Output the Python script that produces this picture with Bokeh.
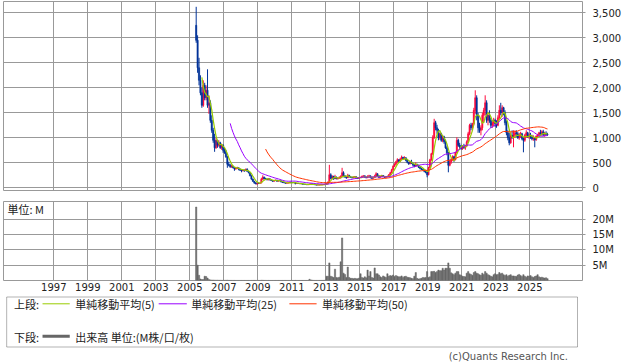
import numpy as np
import pandas as pd
from bokeh.plotting import figure
from bokeh.layouts import column
from bokeh.models import (Range1d, FixedTicker, NumeralTickFormatter, PrintfTickFormatter,
                          Label, BoxAnnotation)
from bokeh.embed import file_html
from bokeh.resources import INLINE
from bokeh.core.properties import value

# ---------------- data (monthly, 2005-05 .. 2026-01) ----------------
months = pd.period_range("2005-05", "2026-01", freq="M")

opens = [
    3250, 2950, 2400, 2150, 1900, 1650, 2050, 1800,
    1950, 1650, 1700, 1350, 1150, 950, 800, 950, 850, 900, 800, 850,
    750, 720, 620, 470, 450, 420, 430, 400, 380, 390, 400, 370,
    350, 340, 355, 340, 370, 330, 300, 240, 175, 130, 100, 80,
    95, 90, 95, 170, 210, 180, 175, 160, 180, 155, 145, 130,
    145, 155, 130, 145, 140, 115, 105, 100, 90, 95, 100, 112,
    105, 100, 106, 85, 90, 85, 80, 82, 72, 70, 67, 60,
    64, 72, 78, 72, 65, 57, 54, 56, 58, 60, 62, 67,
    75, 85, 110, 260, 190, 230, 180, 215, 180, 190, 200, 220,
    300, 240, 215, 200, 250, 220, 210, 200, 215, 220, 195, 190,
    205, 210, 225, 240, 210, 200, 225, 240, 205, 190, 200, 235,
    280, 240, 210, 225, 245, 230, 210, 220, 230, 260, 300, 360,
    430, 470, 520, 560, 530, 570, 610, 580, 600, 550, 510, 480,
    520, 490, 460, 430, 470, 450, 410, 390, 370, 360, 330, 310,
    260, 400, 560, 680, 1000, 1300, 1200, 1150, 1000, 1080, 950, 1020,
    920, 800, 700, 450, 520, 560, 620, 560, 700, 950, 850, 820,
    790, 830, 800, 840, 920, 1080, 1250, 1200, 1280, 1550, 1800, 1450,
    1200, 1150, 1200, 1450, 1550, 1700, 1350, 1450, 1350, 1250, 1300, 1350,
    1280, 1250, 1400, 1550, 1500, 1600, 1500, 1300, 1100, 1000, 900, 1050,
    1000, 1050, 1100, 1080, 1000, 1050, 1080, 980, 950, 1050, 1100, 1020,
    1050, 1020, 980, 1000, 960, 1030, 1050, 1100, 1080, 1120, 1060, 1090,
    1070,
]
highs = [
    3620, 3050, 2600, 2250, 2000, 2150, 2100, 2050,
    2370, 1850, 1750, 1450, 1200, 1080, 1000, 960, 950, 920, 880, 870,
    800, 760, 640, 520, 480, 460, 445, 410, 400, 420, 405, 385,
    360, 370, 365, 385, 390, 340, 310, 250, 185, 140, 110, 110,
    110, 105, 200, 250, 225, 200, 185, 190, 185, 165, 150, 150,
    165, 160, 150, 160, 142, 122, 115, 105, 100, 105, 118, 120,
    115, 112, 108, 95, 95, 90, 88, 85, 78, 75, 70, 68,
    82, 88, 82, 75, 68, 62, 60, 62, 64, 66, 70, 80,
    92, 130, 460, 290, 250, 240, 260, 225, 205, 230, 250, 400,
    330, 250, 225, 280, 260, 230, 220, 225, 235, 225, 205, 215,
    220, 245, 250, 245, 215, 250, 260, 245, 210, 215, 260, 310,
    290, 245, 235, 260, 250, 235, 230, 240, 275, 320, 380, 450,
    490, 540, 590, 570, 600, 645, 620, 630, 610, 560, 520, 540,
    560, 500, 470, 510, 480, 460, 420, 400, 380, 365, 340, 320,
    420, 580, 700, 1050, 1380, 1340, 1260, 1180, 1100, 1100, 1050, 1040,
    960, 830, 720, 560, 600, 650, 640, 720, 1010, 980, 900, 860,
    850, 880, 860, 950, 1120, 1280, 1300, 1300, 1600, 1950, 1850, 1500,
    1300, 1250, 1500, 1600, 1850, 1750, 1500, 1550, 1400, 1350, 1400, 1380,
    1350, 1450, 1650, 1700, 1650, 1620, 1550, 1350, 1150, 1100, 1100, 1150,
    1150, 1150, 1150, 1120, 1100, 1120, 1100, 1020, 1080, 1150, 1120, 1080,
    1100, 1060, 1050, 1020, 1050, 1080, 1120, 1160, 1150, 1160, 1120, 1130,
    1100,
]
lows = [
    2900, 2300, 2050, 1850, 1600, 1620, 1750, 1750,
    1600, 1480, 1300, 1100, 900, 720, 780, 800, 820, 780, 760, 700,
    680, 600, 400, 430, 400, 400, 390, 340, 360, 375, 350, 340,
    310, 330, 320, 335, 320, 290, 230, 160, 120, 80, 70, 55,
    75, 80, 90, 160, 170, 160, 150, 150, 150, 135, 120, 125,
    135, 125, 125, 130, 110, 100, 95, 85, 85, 88, 95, 100,
    98, 95, 68, 80, 82, 78, 76, 68, 66, 64, 56, 56,
    60, 68, 68, 62, 54, 50, 50, 52, 54, 55, 58, 64,
    70, 80, 105, 170, 175, 160, 175, 170, 165, 180, 185, 210,
    210, 200, 180, 195, 205, 195, 190, 190, 200, 180, 175, 180,
    195, 200, 210, 200, 190, 195, 210, 190, 175, 185, 195, 225,
    225, 195, 205, 215, 215, 195, 205, 210, 225, 255, 290, 350,
    420, 450, 500, 500, 520, 555, 560, 570, 530, 490, 460, 470,
    480, 430, 410, 425, 430, 395, 370, 355, 345, 310, 290, 210,
    250, 390, 540, 660, 980, 1150, 1080, 950, 960, 920, 910, 880,
    780, 650, 310, 430, 480, 540, 520, 550, 690, 820, 780, 760,
    760, 780, 760, 820, 900, 1050, 1150, 1150, 1250, 1480, 1350, 1100,
    1100, 1050, 1150, 1300, 1450, 1300, 1250, 1300, 1200, 1200, 1230, 1220,
    1200, 1230, 1350, 1450, 1420, 1450, 1250, 1050, 950, 850, 880, 980,
    810, 1000, 1020, 980, 960, 1000, 950, 710, 920, 1000, 1000, 980,
    980, 950, 940, 810, 940, 1000, 1020, 1060, 1040, 1030, 1020, 1040,
    1040,
]
closes = [
    2950, 2400, 2150, 1900, 1650, 2050, 1800, 1950,
    1650, 1700, 1350, 1150, 950, 800, 950, 850, 900, 800, 850, 750,
    720, 620, 470, 450, 420, 430, 400, 380, 390, 400, 370, 350,
    340, 355, 340, 370, 330, 300, 240, 175, 130, 100, 80, 95,
    90, 95, 170, 210, 180, 175, 160, 180, 155, 145, 130, 145,
    155, 130, 145, 140, 115, 105, 100, 90, 95, 100, 112, 105,
    100, 106, 85, 90, 85, 80, 82, 72, 70, 67, 60, 64,
    72, 78, 72, 65, 57, 54, 56, 58, 60, 62, 67, 75,
    85, 110, 260, 190, 230, 180, 215, 180, 190, 200, 220, 300,
    240, 215, 200, 250, 220, 210, 200, 215, 220, 195, 190, 205,
    210, 225, 240, 210, 200, 225, 240, 205, 190, 200, 235, 280,
    240, 210, 225, 245, 230, 210, 220, 230, 260, 300, 360, 430,
    470, 520, 560, 530, 570, 610, 580, 600, 550, 510, 480, 520,
    490, 460, 430, 470, 450, 410, 390, 370, 360, 330, 310, 260,
    400, 560, 680, 1000, 1300, 1200, 1150, 1000, 1080, 950, 1020, 920,
    800, 700, 450, 520, 560, 620, 560, 700, 950, 850, 820, 790,
    830, 800, 840, 920, 1080, 1250, 1200, 1280, 1550, 1800, 1450, 1200,
    1150, 1200, 1450, 1550, 1700, 1350, 1450, 1350, 1250, 1300, 1350, 1280,
    1250, 1400, 1550, 1500, 1600, 1500, 1300, 1100, 1000, 900, 1050, 1000,
    1050, 1100, 1080, 1000, 1050, 1080, 980, 950, 1050, 1100, 1020, 1050,
    1020, 980, 1000, 960, 1030, 1050, 1100, 1080, 1120, 1060, 1090, 1070,
    1060,
]
volumes_m = [
    24.0, 5.0, 1.7, 0.5, 0.3, 0.3, 1.4, 1.3,
    0.8, 0.3, 0.2, 0.15, 0.15, 0.1, 0.1, 0.1, 0.08, 0.08, 0.06, 0.06,
    0.06, 0.08, 0.1, 0.05, 0.05, 0.04, 0.04, 0.04, 0.03, 0.03, 0.03, 0.03,
    0.03, 0.03, 0.03, 0.03, 0.03, 0.03, 0.03, 0.04, 0.04, 0.05, 0.04, 0.04,
    0.03, 0.03, 0.08, 0.08, 0.05, 0.04, 0.03, 0.04, 0.03, 0.03, 0.03, 0.03,
    0.03, 0.03, 0.03, 0.03, 0.03, 0.03, 0.03, 0.03, 0.03, 0.03, 0.03, 0.03,
    0.03, 0.03, 0.05, 0.03, 0.03, 0.03, 0.03, 0.03, 0.03, 0.03, 0.03, 0.03,
    0.4, 0.2, 0.08, 0.05, 0.04, 0.04, 0.04, 0.04, 0.05, 0.05, 0.06, 0.1,
    1.4, 1.4, 5.75, 1.4, 1.2, 1.0, 3.7, 1.0, 0.9, 1.1, 6.1, 13.9,
    2.4, 2.0, 1.0, 4.4, 1.0, 0.7, 0.7, 0.6, 0.7, 0.6, 0.6, 0.8,
    2.2, 1.0, 0.8, 1.2, 0.9, 3.4, 1.5, 2.9, 1.0, 0.8, 4.1, 2.2,
    2.2, 1.8, 1.2, 1.0, 1.5, 1.2, 1.0, 2.2, 1.4, 1.6, 1.5, 1.8,
    1.3, 1.6, 1.4, 1.2, 1.2, 1.5, 1.0, 1.3, 1.4, 1.1, 1.0, 0.9,
    0.7, 0.6, 1.4, 2.6, 0.7, 0.5, 0.6, 0.7, 1.0, 0.9, 1.0, 2.9,
    1.0, 1.2, 2.9, 2.9, 3.0, 2.6, 2.9, 3.4, 3.2, 3.2, 4.0, 3.4,
    4.0, 4.0, 5.75, 4.0, 2.5, 2.2, 1.9, 2.4, 2.9, 2.9, 1.9, 1.7,
    1.4, 1.3, 1.2, 2.4, 2.9, 2.2, 2.0, 1.7, 2.6, 2.9, 2.4, 2.2,
    1.9, 1.7, 2.4, 2.0, 2.9, 2.4, 1.9, 1.7, 1.4, 1.2, 1.9, 2.2,
    1.9, 2.0, 2.6, 2.2, 2.4, 1.9, 1.6, 1.9, 1.4, 1.7, 1.9, 1.5,
    1.5, 1.4, 1.3, 1.8, 2.0, 1.6, 1.3, 1.9, 1.4, 1.1, 1.5, 1.4,
    1.6, 1.2, 1.0, 1.3, 1.5, 1.9, 1.2, 1.0, 1.1, 0.9, 0.8, 0.9,
    0.6,
]

year_ticks = list(range(1997, 2026, 2))
price_ticks = [0, 500, 1000, 1500, 2000, 2500, 3000, 3500]
volume_ticks = [5, 10, 15, 20]

legend_upper = ["単純移動平均(5)", "単純移動平均(25)", "単純移動平均(50)"]
legend_lower = "出来高 単位:(M株/口/枚)"

# ---------------- derived ----------------
n = len(months)
assert len(opens) == n and len(highs) == n and len(lows) == n and len(closes) == n and len(volumes_m) == n

o = np.array(opens, float)
h = np.array(highs, float)
l = np.array(lows, float)
c = np.array(closes, float)
v = np.array(volumes_m, float)
x = np.array([m.year + (m.month - 0.5) / 12.0 for m in months])

ma5 = pd.Series(c).rolling(5).mean().to_numpy()
ma25 = pd.Series(c).rolling(25).mean().to_numpy()
ma50 = pd.Series(c).rolling(50).mean().to_numpy()

up = c >= o
dn = ~up

GRID = "#999999"
UP = "#ff0a3c"
DOWN = "#003399"
C5 = "#99cc00"
C25 = "#9900ff"
C50 = "#ff3300"
VOL = "#666666"
TXT = "#222222"
NUMFONT = "DejaVu Sans"
JPFONT = "Noto Sans CJK JP"

XR = Range1d(1994.04, 2028.1)
BW = 0.075

# ---------------- upper price panel ----------------
p1 = figure(width=638, height=195, x_range=XR, y_range=Range1d(-54, 3726),
            output_backend="svg", toolbar_location=None,
            x_axis_location=None, y_axis_location="right",
            min_border_left=3, min_border_right=56, min_border_top=1, min_border_bottom=5)
p1.outline_line_color = GRID
p1.background_fill_color = "white"
p1.border_fill_color = "white"
p1.xgrid.ticker = FixedTicker(ticks=year_ticks)
p1.xgrid.grid_line_color = GRID
p1.ygrid.grid_line_color = GRID
p1.yaxis.ticker = FixedTicker(ticks=price_ticks)
p1.yaxis.formatter = NumeralTickFormatter(format="0,0")
p1.yaxis.major_tick_out = 3
p1.yaxis.major_tick_in = 0
p1.yaxis.minor_tick_line_color = None
p1.yaxis.axis_line_color = None
p1.yaxis.major_tick_line_color = GRID
p1.yaxis.major_label_standoff = 7
p1.yaxis.major_label_text_font = NUMFONT
p1.yaxis.major_label_text_font_size = "10px"
p1.yaxis.major_label_text_color = TXT

for mask, col in ((up, UP), (dn, DOWN)):
    p1.segment(x0=x[mask], y0=l[mask], x1=x[mask], y1=h[mask], line_color=col, line_width=1)
    p1.vbar(x=x[mask], width=BW, top=np.maximum(o, c)[mask], bottom=np.minimum(o, c)[mask],
            fill_color=col, line_color=col, line_width=0.5)

p1.line(x, ma5, line_color=C5, line_width=1.2)
p1.line(x, ma25, line_color=C25, line_width=1)
p1.line(x, ma50, line_color=C50, line_width=1)

# ---------------- lower volume panel ----------------
p2 = figure(width=638, height=100, x_range=XR, y_range=Range1d(0, 25.8),
            output_backend="svg", toolbar_location=None,
            y_axis_location="right",
            min_border_left=3, min_border_right=56, min_border_top=6, min_border_bottom=15)
p2.outline_line_color = GRID
p2.xgrid.ticker = FixedTicker(ticks=year_ticks)
p2.xgrid.grid_line_color = GRID
p2.ygrid.grid_line_color = GRID
p2.xaxis.ticker = FixedTicker(ticks=year_ticks)
p2.xaxis.formatter = PrintfTickFormatter(format="%d")
p2.xaxis.major_tick_out = 0
p2.xaxis.major_tick_in = 0
p2.xaxis.minor_tick_line_color = None
p2.xaxis.axis_line_color = None
p2.xaxis.major_label_standoff = 2
p2.xaxis.major_label_text_font = NUMFONT
p2.xaxis.major_label_text_font_size = "10px"
p2.xaxis.major_label_text_color = TXT
p2.yaxis.ticker = FixedTicker(ticks=volume_ticks)
p2.yaxis.formatter = PrintfTickFormatter(format="%dM")
p2.yaxis.major_tick_out = 3
p2.yaxis.major_tick_in = 0
p2.yaxis.minor_tick_line_color = None
p2.yaxis.axis_line_color = None
p2.yaxis.major_tick_line_color = GRID
p2.yaxis.major_label_standoff = 7
p2.yaxis.major_label_text_font = NUMFONT
p2.yaxis.major_label_text_font_size = "10px"
p2.yaxis.major_label_text_color = TXT

p2.vbar(x=x, width=BW, top=v, bottom=0, fill_color=VOL, line_color=VOL, line_width=0.5)
p2.add_layout(Label(x=1994.28, y=23.2, text="単位: M", text_font=JPFONT,
                    text_font_size="11px", text_baseline="middle", text_color=TXT))

# ---------------- legend strip ----------------
p3 = figure(width=638, height=67, x_range=Range1d(0, 638), y_range=Range1d(67, 0),
            output_backend="svg", toolbar_location=None,
            x_axis_location=None, y_axis_location=None, min_border=0)
p3.grid.visible = False
p3.outline_line_color = None
p3.add_layout(BoxAnnotation(left=3.5, right=632.5, top=1.5, bottom=51.5,
                            fill_alpha=0, line_color="black", line_width=1))
r1, r2 = 8.6, 41.0
p3.text(x=[11.5], y=[r1], text=["上段:"], text_font=value(JPFONT), text_font_size="11px",
        text_baseline="middle", text_color=TXT)
p3.text(x=[11.5], y=[r2], text=["下段:"], text_font=value(JPFONT), text_font_size="11px",
        text_baseline="middle", text_color=TXT)
p3.segment(x0=[43, 171, 315], y0=[r1 - 0.3] * 3, x1=[73, 202, 345], y1=[r1 - 0.3] * 3,
           line_color=[C5, C25, C50], line_width=1)
p3.text(x=[79, 207, 351], y=[r1] * 3, text=legend_upper, text_font=value(JPFONT),
        text_font_size="11px", text_baseline="middle", text_color=TXT)
p3.segment(x0=[43], y0=[r2 - 0.3], x1=[73], y1=[r2 - 0.3], line_color=VOL, line_width=3)
p3.text(x=[79], y=[r2], text=[legend_lower], text_font=value(JPFONT),
        text_font_size="11px", text_baseline="middle", text_color=TXT)
p3.add_layout(Label(x=622, y=60.5, text="(c)Quants Research Inc.", text_font=NUMFONT,
                    text_font_size="10px", text_align="right", text_baseline="middle",
                    text_color="#555555"))

layout = column(p1, p2, p3, spacing=0)
open("out.html", "w").write(file_html(layout, INLINE))
